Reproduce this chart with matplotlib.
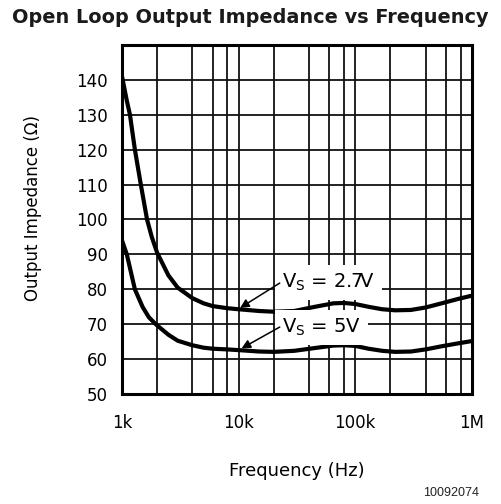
import matplotlib
matplotlib.use("Agg")
import matplotlib.pyplot as plt

# Open loop output impedance (ohms) vs frequency (Hz)
freq_27 = [1.0e3, 1.1e3, 1.17e3, 1.29e3, 1.45e3, 1.64e3, 1.8e3, 2.0e3, 2.5e3, 3.0e3,
           4.0e3, 5.0e3, 6.0e3, 8.0e3, 10e3, 15e3, 20e3, 30e3, 45e3, 65e3, 80e3,
           100e3, 130e3, 170e3, 220e3, 300e3, 400e3, 550e3, 750e3, 1.0e6]
z_27 = [141, 134, 130, 120, 110, 100, 95, 90.5, 84, 80.5,
        77.5, 76.0, 75.2, 74.6, 74.3, 73.8, 73.6, 73.8, 75.0, 76.0, 76.1,
        75.8, 75.0, 74.3, 74.0, 74.1, 74.8, 76.0, 77.2, 78.2]

freq_5 = [1.0e3, 1.1e3, 1.29e3, 1.5e3, 1.7e3, 1.95e3, 2.5e3, 3.0e3, 4.0e3, 5.0e3,
          6.0e3, 8.0e3, 10e3, 15e3, 20e3, 30e3, 45e3, 65e3, 80e3, 100e3,
          130e3, 170e3, 220e3, 300e3, 400e3, 550e3, 750e3, 1.0e6]
z_5 = [94, 90, 80, 75, 72, 70, 67, 65.3, 64.0, 63.3,
       63.0, 62.8, 62.6, 62.2, 62.1, 62.4, 63.2, 63.9, 64.0, 63.8,
       63.0, 62.4, 62.1, 62.2, 62.8, 63.7, 64.5, 65.2]

y_ticks = [50, 60, 70, 80, 90, 100, 110, 120, 130, 140]
x_ticks = [1e3, 1e4, 1e5, 1e6]
x_tick_labels = ["1k", "10k", "100k", "1M"]

fig = plt.figure(figsize=(5.01, 5.04), dpi=100)
ax = fig.add_axes([0.2435, 0.218, 0.6985, 0.693])

ax.set_xscale("log")
ax.set_xlim(1e3, 1e6)
ax.set_ylim(50, 150)

# grid: 2,4,6,8,10 per decade; every 10 ohms vertically
grid_x = [m * 10 ** d for d in (3, 4, 5) for m in (2, 4, 6, 8, 10)]
for gx in grid_x[:-1]:
    ax.axvline(gx, color="#111111", lw=1.3, zorder=1)
for gy in range(60, 150, 10):
    ax.axhline(gy, color="#111111", lw=1.3, zorder=1)

ax.plot(freq_27, z_27, color="black", lw=3.0, solid_capstyle="round", zorder=3)
ax.plot(freq_5, z_5, color="black", lw=3.0, solid_capstyle="round", zorder=3)

ax.set_xticks(x_ticks)
ax.set_xticklabels(x_tick_labels)
ax.xaxis.set_minor_locator(matplotlib.ticker.NullLocator())
ax.set_yticks(y_ticks)
ax.tick_params(axis="both", length=0, labelsize=12)
ax.tick_params(axis="x", pad=14)
ax.tick_params(axis="y", pad=10)
for s in ax.spines.values():
    s.set_linewidth(2.2)
    s.set_zorder(5)

ax.set_xlabel("Frequency (Hz)", fontsize=13, labelpad=22)
ax.set_ylabel("Output Impedance (\u03a9)", fontsize=12)
ax.yaxis.set_label_coords(-0.229, 0.533)

# curve labels on white patches, with separate pointer arrows
box = dict(boxstyle="square,pad=0.35", facecolor="white", edgecolor="none")
arrow = dict(arrowstyle="-|>", color="black", lw=1.1, shrinkA=0, shrinkB=0,
             mutation_scale=13)
ax.text(23.5e3, 80.4, r"V$_\mathregular{S}$ = 2.7V", fontsize=14,
        va="baseline", ha="left", bbox=box, zorder=4)
ax.text(23.5e3, 67.5, r"V$_\mathregular{S}$ = 5V", fontsize=14,
        va="baseline", ha="left", bbox=box, zorder=4)
ax.annotate("", xy=(10.3e3, 74.7), xytext=(22.5e3, 81.8), arrowprops=arrow, zorder=6)
ax.annotate("", xy=(10.6e3, 63.1), xytext=(22.5e3, 69.2), arrowprops=arrow, zorder=6)

fig.text(0.5, 0.966, "Open Loop Output Impedance vs Frequency", ha="center", va="center",
         fontsize=13.9, fontweight="bold", family="DejaVu Sans", color="#1a1a1a")
fig.text(0.956, 0.022, "10092074", ha="right", va="center", fontsize=9,
         family="Liberation Sans", color="#222222")

fig.savefig("out.png", dpi=100)
